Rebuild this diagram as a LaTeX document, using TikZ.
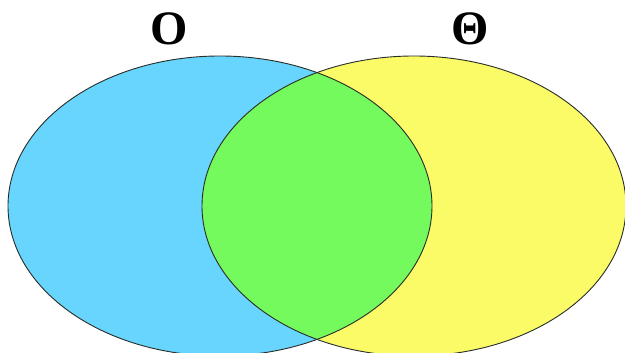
\documentclass[tikz,border=0pt]{standalone}
\usepackage{fontspec}
\setmainfont{Liberation Serif}
\definecolor{vblue}{RGB}{103,213,253}
\definecolor{vyellow}{RGB}{251,251,104}
\definecolor{vgreen}{RGB}{117,250,93}
\definecolor{vline}{RGB}{40,45,40}
\begin{document}
\begin{tikzpicture}[x=1pt,y=-1pt,
  setline/.style={draw=vline,line width=0.9pt},
  setlabel/.style={font=\fontsize{48}{48}\selectfont\bfseries,inner sep=0pt,anchor=base}]
\useasboundingbox (0,0) rectangle (625,353);
\fill[white] (0,0) rectangle (625,353);
\begin{scope}
\clip (0,0) rectangle (625,353);
\fill[vblue] (220,206) ellipse [x radius=212,y radius=150];
\fill[vyellow] (414,206) ellipse [x radius=212,y radius=150];
\begin{scope}
\clip (220,206) ellipse [x radius=212,y radius=150];
\fill[vgreen] (414,206) ellipse [x radius=212,y radius=150];
\end{scope}
\draw[setline] (220,206) ellipse [x radius=212,y radius=150];
\draw[setline] (414,206) ellipse [x radius=212,y radius=150];
\end{scope}
\node[setlabel] (bigo) at (169,45) {O};
\node[setlabel] (bigtheta) at (470,45) {Θ};
\end{tikzpicture}
\end{document}
